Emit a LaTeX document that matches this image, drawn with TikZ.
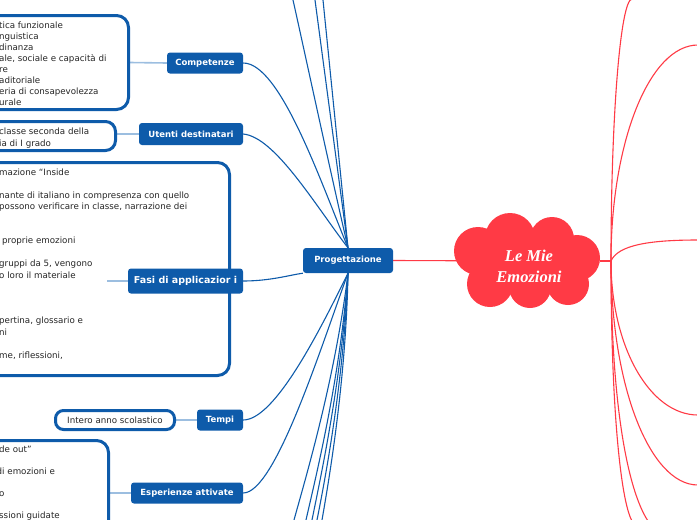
\documentclass[tikz,border=0pt]{standalone}
\usepackage{fontspec}
\setmainfont{DejaVu Sans}
\newfontfamily\cloudfont{Liberation Serif}
\usetikzlibrary{calc}
\definecolor{mblue}{HTML}{0E5BAA}
\definecolor{lblue}{HTML}{9CBEE0}
\definecolor{mred}{HTML}{FF3A45}
\pgfdeclarelayer{bg}
\pgfsetlayers{bg,main}
\begin{document}
\begin{tikzpicture}[x=1pt,y=-1pt,
  topic/.style={fill=mblue, rounded corners=3pt, text=white, font=\fontsize{8.5}{10}\selectfont\bfseries, inner sep=0pt, minimum height=21pt},
  textbox/.style={draw=mblue, line width=3pt, fill=white, rounded corners=12pt, inner sep=0pt},
  body/.style={font=\fontsize{8.7}{11.44}\selectfont, align=left, inner sep=0pt, anchor=north west, text=black!85},
  bl/.style={draw=mblue, line width=1.1pt},
  ll/.style={draw=lblue, line width=1.6pt},
  rl/.style={draw=mred, line width=1.1pt}]
\useasboundingbox (0,0) rectangle (697,520);

% white text boxes
\node[textbox, minimum width=158.5pt, minimum height=94pt] (compbox) at (49.25,62.5) {};
\node[body, font=\fontsize{8.7}{11}\selectfont] (comptxt) at (-1,20.3) {\strut tica funzionale\\nguistica\\dinanza\\ale, sociale e capacità di\\re\\aditoriale\\eria di consapevolezza\\urale};

\node[textbox, rounded corners=10pt, minimum width=145.5pt, minimum height=29pt] (utenbox) at (42.75,136) {};
\node[body, font=\fontsize{8.7}{12}\selectfont] (utentxt) at (-1,125.6) {\strut classe seconda della\\ia di I grado};

\node[textbox, minimum width=259.5pt, minimum height=213pt] (fasibox) at (99.75,269) {};
\node[body] (fasitxt) at (-1,167) {\strut mazione “Inside\\[11.44pt]nante di italiano in compresenza con quello\\possono verificare in classe, narrazione dei\\[22.88pt]\hspace*{3pt}proprie emozioni\\[11.44pt]gruppi da 5, vengono\\o loro il materiale\\[34.3pt]pertina, glossario e\\ni\\[11.44pt]me, riflessioni,};

\node[textbox, rounded corners=8pt, minimum width=119pt, minimum height=19pt, font=\fontsize{8.7}{10}\selectfont, text=black!85] (tempibox) at (115,420) {Intero anno scolastico};

\node[textbox, minimum width=138.5pt, minimum height=119.5pt] (espbox) at (39.25,500.25) {};
\node[body, font=\fontsize{8.7}{11}\selectfont] (esptxt) at (-1,444.3) {\strut de out”\\[11pt]\hspace*{-2.5pt}di emozioni e\\[11pt]o\\[11pt]ssioni guidate};

% topic nodes
\node[topic, minimum width=90pt, minimum height=25pt] (prog) at (348,260.5) {Progettazione};
\node[topic, minimum width=76pt] (comp) at (205,63) {Competenze};
\node[topic, minimum width=104pt, minimum height=22pt] (uten) at (191,134) {Utenti destinatari};
\node[topic, minimum width=115pt, minimum height=25pt, font=\fontsize{9.5}{11}\selectfont\bfseries] (fasi) at (185.5,281) {Fasi di applicazior i};
\node[topic, minimum width=46pt] (tempi) at (220,420) {Tempi};
\node[topic, minimum width=112pt] (esp) at (187,493) {Esperienze attivate};

% cloud
\fill[mred] (478,251) circle (24) (510,238) circle (25) (552,239) circle (22)
  (577,258) circle (23) (568,284) circle (21) (530,287) circle (21) (490,284) circle (23)
  (527,262) ellipse (52 and 32);
\node[minimum width=146pt, minimum height=95pt, inner sep=0pt] (cloud) at (527,261) {};
\node[inner sep=0pt, align=center, text=white, font=\cloudfont\bfseries\itshape\fontsize{16.5}{21}\selectfont] (cloudtxt) at (529,266) {Le Mie\\Emozioni};

% free ends
\coordinate (rh) at (611,261);
\coordinate (b1) at (293,0);
\coordinate (b2) at (315,0);
\coordinate (b3) at (323,0);
\coordinate (d1) at (294,520);
\coordinate (d2) at (306,520);
\coordinate (d3) at (312,520);
\coordinate (d4) at (317,520);
\coordinate (d5) at (322,520);
\coordinate (fasiend) at (107,281);

\begin{pgfonlayer}{bg}
\draw[ll] (comp.west) -- (compbox.east);
\draw[ll] (uten.west) -- (utenbox.east |- uten.west);
\draw[ll] (tempi.west) -- (tempibox.east);
\draw[ll] (esp.west) -- (espbox.east |- esp.west);
\draw[rl] (prog.east) -- (cloud.center);
\end{pgfonlayer}
\draw[ll] (fasi.west) -- (fasiend);

% blue connectors
\draw[bl] (comp.east) .. controls (280,63) and (320,180) .. (prog.north);
\draw[bl] (uten.east) .. controls (275,137) and (315,205) .. (prog.north);
\draw[bl] (fasi.east) .. controls (270,281) and (290,275) .. (prog.south west);
\draw[bl] (tempi.east) .. controls (275,420) and (320,330) .. (prog.south);
\draw[bl] (esp.east) .. controls (275,493) and (320,350) .. (prog.south);
\draw[bl] (prog.north) .. controls (330,170) and (302,40) .. (b1);
\draw[bl] (prog.north) -- (b2);
\draw[bl] (prog.north) -- (b3);
\draw[bl] (prog.south) .. controls (335,380) and (305,480) .. (d1);
\draw[bl] (prog.south) .. controls (340,380) and (315,480) .. (d2);
\draw[bl] (prog.south) .. controls (342,380) and (320,480) .. (d3);
\draw[bl] (prog.south) .. controls (344,380) and (325,480) .. (d4);
\draw[bl] (prog.south) .. controls (346,380) and (329,480) .. (d5);

% red connectors
\draw[rl] (cloud.east) -- (rh);
\draw[rl] (rh) .. controls (611,117) and (620.4,0) .. (632,-1);
\draw[rl] (rh) .. controls (611,141.8) and (649.5,45) .. (698,45);
\draw[rl] (rh) .. controls (618,245) and (649.5,240) .. (698,240);
\draw[rl] (rh) .. controls (611,346) and (649.5,415) .. (698,415);
\draw[rl] (rh) .. controls (611,384.6) and (649.5,485) .. (698,485);
\draw[rl] (rh) .. controls (611,404) and (620.4,500) .. (632,521);
\draw[rl] (rh) .. controls (611,404) and (627.6,490) .. (648,521);
\end{tikzpicture}
\end{document}
